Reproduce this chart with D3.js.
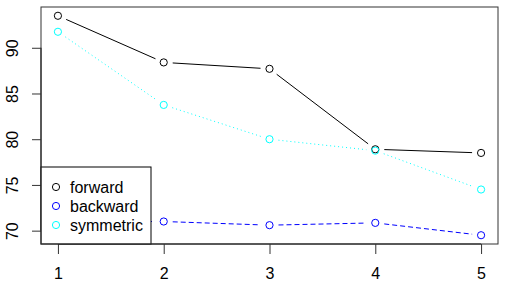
<!DOCTYPE html>
<html>
<head>
<meta charset="utf-8">
<script src="https://cdn.jsdelivr.net/npm/d3@7"></script>
<style>
  body { margin: 0; background: #fff; }
  text { font-family: "Liberation Sans", Arial, sans-serif; }
</style>
</head>
<body>
<div id="chart"></div>
<script>
// data
var steps = [1, 2, 3, 4, 5];
var forward = [93.5, 88.4, 87.7, 78.9, 78.5];
var backward = [71.0, 71.0, 70.6, 70.85, 69.5];
var symmetric = [91.75, 83.75, 80.0, 78.75, 74.5];
var yTicks = [70, 75, 80, 85, 90];
var seriesNames = ["forward", "backward", "symmetric"];

var svgWidth = 506, svgHeight = 292;
var margin = { top: 7, right: 8, bottom: 48, left: 41 };
var width = svgWidth - margin.left - margin.right;
var height = svgHeight - margin.top - margin.bottom;

var svg = d3.select("#chart").append("svg")
  .attr("width", svgWidth)
  .attr("height", svgHeight);

var g = svg.append("g")
  .attr("transform", `translate(${margin.left}, ${margin.top})`);

// R style 4% padding on both axes
var x = d3.scaleLinear().domain([0.84, 5.16]).range([0, width]);
var yMin = 69.5, yMax = 93.5, pad = (yMax - yMin) * 0.04;
var y = d3.scaleLinear().domain([yMin - pad, yMax + pad]).range([height, 0]);

var series = [
  { name: "forward", values: forward, color: "#000000", dash: null },
  { name: "backward", values: backward, color: "#0000FF", dash: "5,3" },
  { name: "symmetric", values: symmetric, color: "#00FFFF", dash: "1,3" }
];

// lines with gaps around points (type = "b")
var gap = 9;
series.forEach(function(s) {
  for (var i = 0; i < steps.length - 1; i++) {
    var x1 = x(steps[i]), y1 = y(s.values[i]);
    var x2 = x(steps[i + 1]), y2 = y(s.values[i + 1]);
    var dx = x2 - x1, dy = y2 - y1, len = Math.sqrt(dx * dx + dy * dy);
    if (len <= 2 * gap) continue;
    var ux = dx / len, uy = dy / len;
    g.append("line")
      .attr("x1", x1 + ux * gap).attr("y1", y1 + uy * gap)
      .attr("x2", x2 - ux * gap).attr("y2", y2 - uy * gap)
      .attr("stroke", s.color)
      .attr("stroke-width", 1)
      .attr("stroke-dasharray", s.dash);
  }
  g.selectAll(null).data(s.values).enter().append("circle")
    .attr("cx", (d, i) => x(steps[i]))
    .attr("cy", d => y(d))
    .attr("r", 3.6)
    .attr("fill", "none")
    .attr("stroke", s.color)
    .attr("stroke-width", 1);
});

// axes
var bottomAxis = d3.axisBottom(x).tickValues(steps).tickSize(10).tickPadding(14).tickFormat(d3.format("d"));
var leftAxis = d3.axisLeft(y).tickValues(yTicks).tickSize(9).tickPadding(4);

var xg = g.append("g")
  .attr("transform", `translate(0, ${height})`)
  .call(bottomAxis);
xg.select(".domain").attr("d", `M${x(1)},0H${x(5)}`);
xg.selectAll("text").attr("font-size", 16).attr("fill", "#000");
xg.selectAll("line").attr("stroke", "#333");

var yg = g.append("g").call(leftAxis);
yg.select(".domain").attr("d", `M0,${y(70)}V${y(90)}`);
yg.selectAll("line").attr("stroke", "#333");
yg.selectAll("text")
  .attr("font-size", 16).attr("fill", "#000")
  .attr("text-anchor", "middle")
  .attr("x", null).attr("dy", null)
  .attr("transform", "translate(-23,0) rotate(-90)")
  .attr("dy", "0");

// legend (bottomleft)
var legW = 110, legH = 77, rowH = 19;
var leg = g.append("g").attr("transform", `translate(0, ${height - legH})`);
leg.append("rect")
  .attr("width", legW).attr("height", legH)
  .attr("fill", "#fff").attr("stroke", "#000").attr("stroke-width", 1);
series.forEach(function(s, i) {
  leg.append("circle")
    .attr("cx", 15).attr("cy", 20 + i * rowH).attr("r", 3.6)
    .attr("fill", "none").attr("stroke", s.color);
  leg.append("text")
    .attr("x", 29).attr("y", 20 + i * rowH)
    .attr("dy", "0.35em")
    .attr("font-size", 16)
    .text(seriesNames[i]);
});

// plot box
g.append("rect")
  .attr("width", width).attr("height", height)
  .attr("fill", "none").attr("stroke", "#333").attr("stroke-width", 1);
</script>
</body>
</html>
